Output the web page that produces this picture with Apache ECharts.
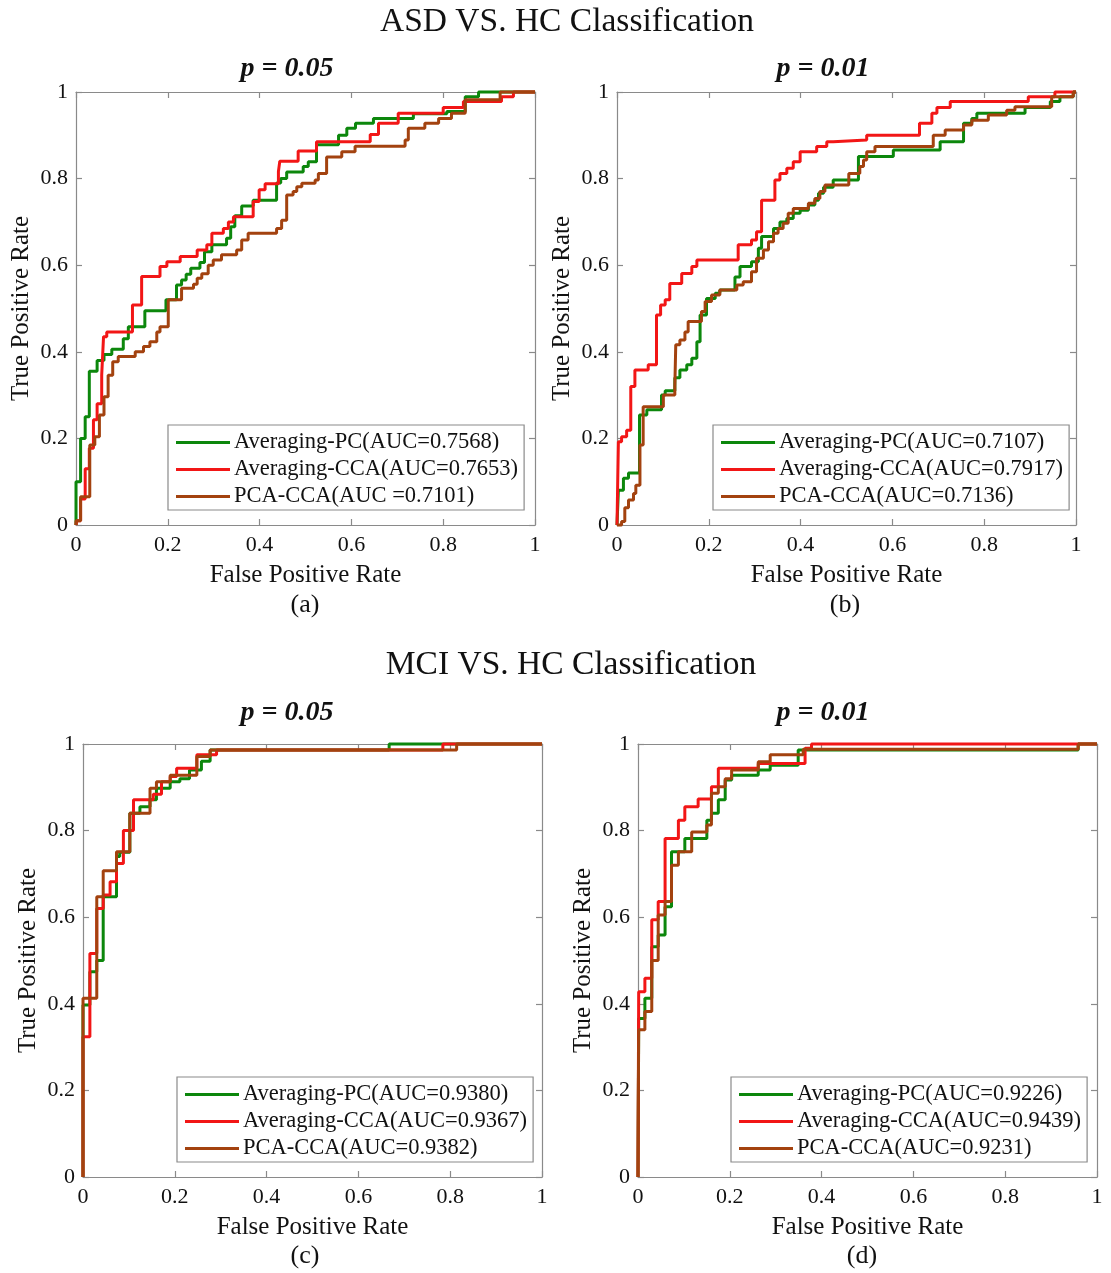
<!DOCTYPE html>
<html><head><meta charset="utf-8">
<script src="https://cdn.jsdelivr.net/npm/echarts@6/dist/echarts.min.js"></script>
<style>html,body{margin:0;padding:0;background:#fff}#c{width:1111px;height:1273px}</style>
</head><body><div id="c"></div>
<script>
// ---------- data ----------
const tickValues = [0, 0.2, 0.4, 0.6, 0.8, 1];
const tickLabels = ['0', '0.2', '0.4', '0.6', '0.8', '1'];

const namesA = ['Averaging-PC(AUC=0.7568)', 'Averaging-CCA(AUC=0.7653)', 'PCA-CCA(AUC =0.7101)'];
const namesB = ['Averaging-PC(AUC=0.7107)', 'Averaging-CCA(AUC=0.7917)', 'PCA-CCA(AUC=0.7136)'];
const namesC = ['Averaging-PC(AUC=0.9380)', 'Averaging-CCA(AUC=0.9367)', 'PCA-CCA(AUC=0.9382)'];
const namesD = ['Averaging-PC(AUC=0.9226)', 'Averaging-CCA(AUC=0.9439)', 'PCA-CCA(AUC=0.9231)'];

// (a) ASD vs HC, p = 0.05 : [FPR, TPR]
const greenA = [[0,0],[0,0.10],[0.010,0.20],[0.020,0.25],[0.029,0.355],[0.046,0.38],[0.061,0.394],[0.078,0.406],[0.103,0.43],[0.114,0.458],[0.150,0.495],[0.196,0.52],[0.219,0.554],[0.230,0.566],[0.240,0.579],[0.250,0.593],[0.270,0.606],[0.280,0.631],[0.296,0.647],[0.328,0.662],[0.337,0.689],[0.346,0.714],[0.361,0.737],[0.386,0.75],[0.437,0.79],[0.446,0.80],[0.459,0.815],[0.495,0.828],[0.506,0.839],[0.524,0.878],[0.572,0.90],[0.590,0.916],[0.609,0.928],[0.648,0.939],[0.735,0.95],[0.808,0.955],[0.848,0.989],[0.877,1],[1,1]];
const redA = [[0,0],[0.0015,0.01],[0.010,0.06],[0.020,0.13],[0.029,0.177],[0.038,0.243],[0.046,0.28],[0.056,0.346],[0.060,0.435],[0.067,0.446],[0.123,0.508],[0.143,0.574],[0.183,0.597],[0.198,0.608],[0.227,0.62],[0.264,0.635],[0.285,0.647],[0.296,0.674],[0.321,0.685],[0.332,0.70],[0.343,0.712],[0.386,0.747],[0.399,0.774],[0.412,0.788],[0.441,0.816],[0.444,0.84],[0.484,0.864],[0.524,0.885],[0.641,0.902],[0.659,0.928],[0.702,0.951],[0.800,0.964],[0.844,0.978],[0.927,0.989],[0.953,1],[1,1]];
const brownA = [[0,0],[0,0.01],[0.010,0.065],[0.030,0.185],[0.041,0.204],[0.051,0.254],[0.061,0.296],[0.070,0.346],[0.080,0.377],[0.092,0.389],[0.129,0.40],[0.147,0.412],[0.161,0.423],[0.176,0.446],[0.183,0.458],[0.201,0.52],[0.230,0.547],[0.256,0.556],[0.264,0.57],[0.274,0.58],[0.288,0.60],[0.299,0.612],[0.317,0.624],[0.350,0.635],[0.361,0.658],[0.375,0.674],[0.437,0.685],[0.448,0.704],[0.459,0.762],[0.473,0.77],[0.481,0.781],[0.492,0.789],[0.521,0.797],[0.528,0.812],[0.546,0.85],[0.579,0.862],[0.608,0.875],[0.717,0.889],[0.724,0.916],[0.760,0.928],[0.790,0.939],[0.818,0.951],[0.848,0.982],[0.924,1],[1,1]];

// (b) ASD vs HC, p = 0.01
const greenB = [[0,0],[0.003,0.08],[0.014,0.108],[0.025,0.12],[0.049,0.254],[0.065,0.266],[0.097,0.30],[0.105,0.31],[0.126,0.34],[0.137,0.358],[0.152,0.37],[0.163,0.385],[0.174,0.423],[0.181,0.485],[0.195,0.523],[0.214,0.535],[0.224,0.543],[0.257,0.573],[0.268,0.597],[0.293,0.608],[0.308,0.639],[0.315,0.666],[0.341,0.685],[0.355,0.70],[0.370,0.708],[0.384,0.72],[0.399,0.727],[0.417,0.739],[0.431,0.75],[0.439,0.766],[0.450,0.78],[0.471,0.797],[0.526,0.851],[0.602,0.866],[0.704,0.885],[0.755,0.928],[0.773,0.939],[0.784,0.951],[0.889,0.964],[0.944,0.978],[0.965,0.989],[0.994,1],[1,1]];
const redB = [[0,0],[0.003,0.192],[0.010,0.204],[0.021,0.219],[0.030,0.32],[0.039,0.358],[0.068,0.37],[0.086,0.485],[0.095,0.508],[0.105,0.52],[0.115,0.558],[0.141,0.581],[0.163,0.597],[0.174,0.612],[0.264,0.647],[0.293,0.658],[0.304,0.677],[0.315,0.75],[0.344,0.797],[0.355,0.812],[0.370,0.824],[0.384,0.839],[0.399,0.862],[0.435,0.874],[0.457,0.885],[0.471,0.889],[0.544,0.90],[0.659,0.928],[0.686,0.951],[0.697,0.964],[0.726,0.978],[0.896,0.989],[0.954,1],[1,1]];
const brownB = [[0,0],[0.010,0.008],[0.017,0.04],[0.025,0.058],[0.036,0.073],[0.041,0.092],[0.050,0.185],[0.057,0.273],[0.101,0.30],[0.126,0.32],[0.128,0.416],[0.137,0.427],[0.148,0.446],[0.155,0.47],[0.184,0.493],[0.192,0.516],[0.206,0.531],[0.224,0.543],[0.261,0.554],[0.275,0.562],[0.293,0.585],[0.304,0.616],[0.319,0.635],[0.330,0.654],[0.341,0.674],[0.351,0.685],[0.362,0.697],[0.373,0.72],[0.384,0.731],[0.417,0.743],[0.431,0.754],[0.442,0.77],[0.453,0.785],[0.505,0.812],[0.529,0.828],[0.537,0.843],[0.544,0.862],[0.562,0.874],[0.689,0.90],[0.715,0.912],[0.755,0.924],[0.773,0.935],[0.809,0.947],[0.849,0.958],[0.867,0.966],[0.947,0.989],[0.994,1],[1,1]];

// (c) MCI vs HC, p = 0.05
const greenC = [[0,0],[0,0.397],[0.015,0.474],[0.030,0.50],[0.044,0.647],[0.073,0.74],[0.080,0.75],[0.102,0.84],[0.124,0.855],[0.146,0.871],[0.160,0.898],[0.190,0.913],[0.211,0.92],[0.232,0.94],[0.258,0.96],[0.277,0.986],[0.667,1],[1,1]];
const redC = [[0,0],[0,0.324],[0.015,0.516],[0.030,0.62],[0.044,0.651],[0.059,0.682],[0.073,0.724],[0.088,0.80],[0.110,0.871],[0.153,0.884],[0.171,0.913],[0.190,0.925],[0.204,0.944],[0.248,0.975],[0.291,0.986],[0.784,1],[1,1]];
const brownC = [[0,0],[0,0.413],[0.030,0.647],[0.044,0.707],[0.073,0.751],[0.102,0.84],[0.146,0.898],[0.160,0.913],[0.190,0.928],[0.248,0.971],[0.277,0.986],[0.814,1],[1,1]];

// (d) MCI vs HC, p = 0.01
const greenD = [[0,0],[0.0015,0.366],[0.015,0.413],[0.030,0.532],[0.044,0.559],[0.059,0.624],[0.073,0.751],[0.102,0.782],[0.150,0.824],[0.160,0.84],[0.175,0.871],[0.190,0.917],[0.204,0.928],[0.262,0.94],[0.288,0.951],[0.349,0.986],[0.959,1],[1,1]];
const redD = [[0,0],[0.0015,0.428],[0.015,0.459],[0.030,0.594],[0.044,0.636],[0.059,0.782],[0.088,0.824],[0.102,0.855],[0.131,0.873],[0.160,0.901],[0.175,0.944],[0.262,0.955],[0.364,0.99],[0.378,1],[1,1]];
const brownD = [[0,0],[0.0015,0.34],[0.015,0.382],[0.030,0.50],[0.044,0.605],[0.059,0.636],[0.073,0.72],[0.088,0.751],[0.117,0.797],[0.150,0.813],[0.160,0.886],[0.175,0.901],[0.190,0.92],[0.204,0.94],[0.262,0.959],[0.288,0.975],[0.360,0.988],[0.959,1],[1,1]];

// ---------- layout ----------
const FONT = 'Liberation Serif';
const COLORS = ['#0c870c', '#f21616', '#a3420f'];
const panels = [
  {grid: {left: 76, top: 92, width: 459, height: 433}, names: namesA, data: [greenA, redA, brownA], legend: {left: 168, top: 425}},
  {grid: {left: 617, top: 92, width: 459, height: 433}, names: namesB, data: [greenB, redB, brownB], legend: {left: 713, top: 425}},
  {grid: {left: 83, top: 744, width: 459, height: 433}, names: namesC, data: [greenC, redC, brownC], legend: {left: 177, top: 1077}},
  {grid: {left: 638, top: 744, width: 459, height: 433}, names: namesD, data: [greenD, redD, brownD], legend: {left: 731, top: 1077}}
];

const axisLineStyle = {color: '#8a8a8a', width: 1.2};
const grids = [], xAxes = [], yAxes = [], series = [], legends = [];
panels.forEach((p, i) => {
  grids.push(Object.assign({containLabel: false}, p.grid));
  const base = {
    type: 'value', min: 0, max: 1, interval: 0.2, gridIndex: i,
    axisLine: {show: true, onZero: false, lineStyle: axisLineStyle},
    axisTick: {show: true, inside: true, length: 6, lineStyle: axisLineStyle},
    splitLine: {show: false}
  };
  const fmt = v => { const k = tickValues.findIndex(t => Math.abs(t - v) < 1e-9); return k >= 0 ? tickLabels[k] : ''; };
  xAxes.push(Object.assign({}, base, {
    position: 'bottom',
    name: 'False Positive Rate', nameLocation: 'middle', nameGap: 38,
    nameTextStyle: {fontFamily: FONT, fontSize: 25, color: '#111'},
    axisLabel: {formatter: fmt, fontFamily: FONT, fontSize: 22, color: '#111', margin: 9}
  }));
  xAxes.push(Object.assign({}, base, {position: 'top', axisLabel: {show: false}}));
  yAxes.push(Object.assign({}, base, {
    position: 'left',
    name: 'True Positive Rate', nameLocation: 'middle', nameGap: 42,
    nameTextStyle: {fontFamily: FONT, fontSize: 25, color: '#111'},
    axisLabel: {formatter: fmt, fontFamily: FONT, fontSize: 22, color: '#111', margin: 8}
  }));
  yAxes.push(Object.assign({}, base, {position: 'right', axisLabel: {show: false}}));
  p.data.forEach((d, s) => {
    series.push({
      type: 'line', name: p.names[s], data: d, step: 'end',
      xAxisIndex: i * 2, yAxisIndex: i * 2,
      symbol: 'none', showSymbol: false, clip: false,
      lineStyle: {color: COLORS[s], width: 3}, itemStyle: {color: COLORS[s]},
      animation: false, z: 2 + s
    });
  });
  legends.push({
    data: p.names, left: p.legend.left, top: p.legend.top, orient: 'vertical',
    icon: 'rect', itemWidth: 54, itemHeight: 3, itemGap: 4,
    padding: [6, 6, 2, 8], borderColor: '#8a8a8a', borderWidth: 1.2, backgroundColor: '#fff',
    textStyle: {fontFamily: FONT, fontSize: 22.5, color: '#111', lineHeight: 20, padding: [0, 0, 0, -1]},
    selectedMode: false
  });
});

const texts = [
  {t: 'ASD VS. HC Classification', x: 567, y: 22, f: '33.5px "Liberation Serif"'},
  {t: 'MCI VS. HC Classification', x: 571, y: 665, f: '33.5px "Liberation Serif"'},
  {t: 'p = 0.05', x: 287, y: 69, f: 'italic bold 28px "Liberation Serif"'},
  {t: 'p = 0.01', x: 823, y: 69, f: 'italic bold 28px "Liberation Serif"'},
  {t: 'p = 0.05', x: 287, y: 713, f: 'italic bold 28px "Liberation Serif"'},
  {t: 'p = 0.01', x: 823, y: 713, f: 'italic bold 28px "Liberation Serif"'},
  {t: '(a)', x: 305, y: 605, f: '26px "Liberation Serif"'},
  {t: '(b)', x: 845, y: 605, f: '26px "Liberation Serif"'},
  {t: '(c)', x: 305, y: 1256, f: '26px "Liberation Serif"'},
  {t: '(d)', x: 862, y: 1256, f: '26px "Liberation Serif"'}
];
const graphic = texts.map(o => ({
  type: 'text', x: o.x, y: o.y, silent: true,
  style: {text: o.t, font: o.f, fill: '#111', align: 'center', verticalAlign: 'middle'}
}));

const chart = echarts.init(document.getElementById('c'), null, {renderer: 'canvas'});
chart.setOption({
  backgroundColor: '#fff', animation: false,
  grid: grids, xAxis: xAxes, yAxis: yAxes, series: series, legend: legends, graphic: graphic
});
</script></body></html>
